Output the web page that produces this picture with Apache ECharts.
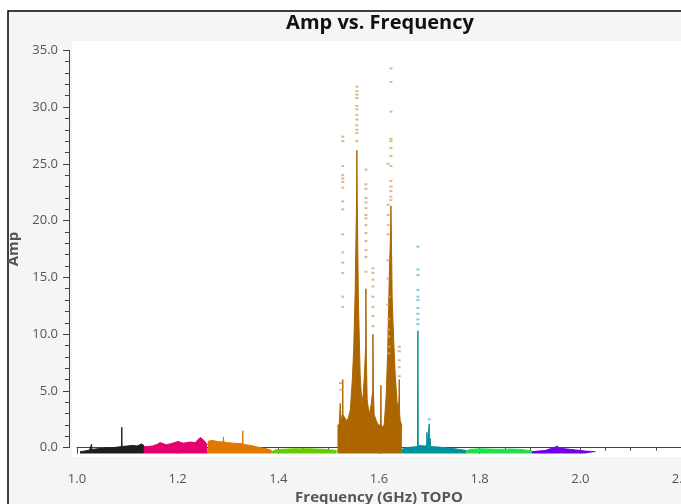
<!DOCTYPE html>
<html>
<head>
<meta charset="utf-8">
<script src="https://cdn.jsdelivr.net/npm/echarts@6/dist/echarts.min.js"></script>
<style>
  html, body { margin: 0; padding: 0; background: #fff; }
  #chart { width: 681px; height: 504px; }
</style>
</head>
<body>
<div id="chart"></div>
<script>
// amplitude floor of every spw strip (points sit a little under the 0.0 tick)
const BASE = -0.5

// spw 0..7, upper edge of each strip [GHz, Amp]
const spw0Freq = [1.006, 1.015, 1.025, 1.0285, 1.029, 1.0295, 1.04, 1.05, 1.06, 1.07, 1.08, 1.0885, 1.089, 1.0895, 1.10, 1.11, 1.12, 1.128, 1.133]
const spw0Amp = [-0.35, -0.3, -0.2, -0.15, 0.3, -0.15, -0.1, -0.05, 0.0, 0.0, 0.05, 0.1, 1.8, 0.1, 0.15, 0.2, 0.15, 0.33, 0.2]

const spw1Freq = [1.133, 1.14, 1.15, 1.16, 1.165, 1.178, 1.19, 1.201, 1.211, 1.225, 1.235, 1.2445, 1.251, 1.258, 1.26]
const spw1Amp = [0.1, 0.1, 0.15, 0.3, 0.45, 0.25, 0.4, 0.55, 0.4, 0.5, 0.45, 0.9, 0.7, 0.3, 0.3]

const spw2Freq = [1.26, 1.268, 1.278, 1.2905, 1.291, 1.2915, 1.298, 1.311, 1.3289, 1.3294, 1.3299, 1.337, 1.35, 1.364, 1.377, 1.387]
const spw2Amp = [0.55, 0.65, 0.55, 0.5, 0.95, 0.5, 0.45, 0.4, 0.35, 1.5, 0.3, 0.25, 0.15, 0.0, -0.1, -0.25]

const spw3Freq = [1.387, 1.394, 1.404, 1.43, 1.463, 1.495, 1.516]
const spw3Amp = [-0.35, -0.2, -0.15, -0.1, -0.1, -0.15, -0.25]

const spw4Freq = [1.5175, 1.521, 1.523, 1.5245, 1.527, 1.5275, 1.528, 1.5285, 1.535, 1.539, 1.543, 1.547, 1.5497, 1.5527, 1.5555, 1.556, 1.5568, 1.559, 1.5626, 1.566, 1.569, 1.5716, 1.5735, 1.574, 1.5748, 1.5765, 1.5805, 1.5845, 1.5875, 1.588, 1.5888, 1.5905, 1.5944, 1.5984, 1.6032, 1.6038, 1.6045, 1.6064, 1.6103, 1.6143, 1.6173, 1.6203, 1.623, 1.6237, 1.6245, 1.6262, 1.6292, 1.6322, 1.6362, 1.6395, 1.6402, 1.641, 1.6421, 1.6455]
const spw4Amp = [1.9, 2.1, 3.9, 2.3, 2.4, 3.0, 6.0, 2.9, 2.4, 2.6, 3.3, 6.0, 8.6, 13.9, 22.0, 26.2, 21.8, 13.0, 6.4, 3.8, 4.9, 6.9, 9.0, 14.0, 8.0, 4.2, 2.9, 3.8, 5.0, 10.0, 5.0, 2.9, 2.4, 2.0, 2.0, 5.5, 2.0, 1.8, 2.0, 4.6, 8.6, 14.8, 19.0, 21.3, 19.0, 13.0, 9.5, 6.4, 3.8, 4.0, 6.0, 3.0, 2.4, 1.9]

const spw5Freq = [1.6455, 1.655, 1.665, 1.6765, 1.6773, 1.678, 1.69, 1.6948, 1.6952, 1.6958, 1.6993, 1.6998, 1.7003, 1.7012, 1.7018, 1.7025, 1.72, 1.74, 1.76, 1.774]
const spw5Amp = [-0.15, 0.0, 0.05, 0.1, 10.3, 0.2, 0.15, 0.2, 1.35, 0.2, 0.3, 2.1, 0.3, 0.2, 0.8, 0.1, 0.05, -0.05, -0.15, -0.25]

const spw6Freq = [1.774, 1.78, 1.80, 1.82, 1.84, 1.86, 1.88, 1.90, 1.904]
const spw6Amp = [-0.3, -0.15, -0.1, -0.12, -0.15, -0.12, -0.15, -0.25, -0.3]

const spw7Freq = [1.904, 1.915, 1.93, 1.94, 1.95, 1.954, 1.958, 1.97, 1.98, 1.99, 2.0, 2.01, 2.03]
const spw7Amp = [-0.35, -0.3, -0.25, -0.1, 0.05, 0.15, -0.05, -0.1, -0.15, -0.2, -0.25, -0.3, -0.35]

const spwFreqs = [spw0Freq, spw1Freq, spw2Freq, spw3Freq, spw4Freq, spw5Freq, spw6Freq, spw7Freq]
const spwAmps = [spw0Amp, spw1Amp, spw2Amp, spw3Amp, spw4Amp, spw5Amp, spw6Amp, spw7Amp]
const spwColors = ['#1e1e1e', '#e5006d', '#e27800', '#66cc00', '#ad6500', '#00929b', '#1fe04a', '#7000e8']

// scattered high points above the dense RFI columns [GHz, Amp]
const spw4Sparse = [
    [1.528, 27.4], [1.528, 27.0], [1.528, 24.8], [1.528, 24.0], [1.528, 23.7], [1.528, 23.4], [1.528, 22.9],
    [1.528, 21.7], [1.528, 21.0], [1.528, 18.8], [1.528, 17.2], [1.528, 16.3], [1.528, 15.4], [1.528, 13.3], [1.528, 12.4],
    [1.556, 31.8], [1.556, 31.4], [1.556, 31.1], [1.556, 30.8], [1.556, 30.1], [1.556, 29.8], [1.556, 29.3],
    [1.556, 28.9], [1.556, 28.4], [1.556, 28.0], [1.556, 27.7], [1.556, 27.0],
    [1.574, 24.5], [1.574, 23.2], [1.574, 22.8], [1.574, 22.0], [1.574, 21.6], [1.574, 21.1], [1.574, 20.5],
    [1.574, 20.2], [1.574, 19.6], [1.574, 18.9], [1.574, 18.2], [1.574, 17.4], [1.574, 16.8], [1.574, 15.5],
    [1.588, 15.8], [1.588, 15.4], [1.588, 14.8], [1.588, 14.2], [1.588, 13.3], [1.588, 12.4], [1.588, 11.6], [1.588, 10.7],
    [1.6237, 33.4], [1.6237, 32.2], [1.6237, 29.6], [1.6237, 27.2], [1.6237, 27.0], [1.6237, 26.4], [1.6237, 25.7],
    [1.6237, 24.8], [1.6237, 23.5], [1.6237, 23.0], [1.6237, 22.6], [1.6237, 22.1], [1.6237, 21.8],
    [1.6182, 25.0], [1.6182, 21.4], [1.6182, 20.5], [1.6182, 19.6], [1.6182, 18.8],
    [1.6176, 16.5], [1.618, 14.9], [1.617, 12.6], [1.62, 13.3], [1.619, 11.3], [1.6186, 10.4], [1.62, 9.8], [1.6206, 8.9], [1.6193, 8.3],
    [1.6402, 8.9], [1.6402, 8.5], [1.6402, 7.7], [1.6402, 7.1], [1.6402, 6.3],
    [1.5235, 5.7], [1.5245, 5.1]
]
const spw5Sparse = [
    [1.6773, 17.7], [1.6773, 15.7], [1.6773, 15.2], [1.6773, 13.9], [1.6773, 13.3], [1.6773, 13.0],
    [1.6773, 12.3], [1.6773, 11.8], [1.6773, 11.3], [1.6773, 10.9], [1.6998, 2.5]
]

const chart = echarts.init(document.getElementById('chart'), null, {renderer: 'canvas'})

const series = spwFreqs.map((freqs, i) => ({
    type: 'line',
    name: 'spw' + i,
    data: freqs.map((f, k) => [f, spwAmps[i][k]]),
    showSymbol: false,
    clip: false,
    z: 3,
    lineStyle: {color: spwColors[i], width: 1},
    areaStyle: {color: spwColors[i], opacity: 1, origin: BASE}
}))

series.push({
    type: 'scatter',
    data: spw4Sparse,
    symbol: 'rect',
    symbolSize: [3, 2],
    itemStyle: {color: '#d4a76e'},
    z: 4
})
series.push({
    type: 'scatter',
    data: spw5Sparse,
    symbol: 'rect',
    symbolSize: [3, 2],
    itemStyle: {color: '#5fbfc7'},
    z: 4
})

const axisGrey = '#444'
const labelGrey = '#555'
const fontFamily = '"Open Sans", "Noto Sans", sans-serif'

const options = {
    animation: false,
    backgroundColor: '#fff',
    textStyle: {fontFamily: fontFamily},
    graphic: {
        elements: [
            {
                type: 'rect',
                z: -10,
                shape: {x: 8, y: 11, width: 700, height: 520},
                style: {fill: '#f4f5f7', stroke: '#000', lineWidth: 1.5}
            },
            {
                type: 'rect',
                z: -9,
                shape: {x: 72, y: 41, width: 620, height: 416},
                style: {fill: '#fff'}
            },
            {
                type: 'text',
                z: 10,
                x: 380,
                y: 23,
                style: {
                    text: 'Amp vs. Frequency',
                    align: 'center',
                    verticalAlign: 'middle',
                    fill: '#111',
                    font: 'bold 20px "Open Sans", "Noto Sans", sans-serif'
                }
            }
        ]
    },
    grid: {
        left: 77,
        right: 0,
        top: 50.3,
        bottom: 56.3,
        outerBoundsMode: 'none'
    },
    xAxis: {
        type: 'value',
        min: 1.0,
        max: 2.2,
        interval: 0.2,
        offset: 15,
        name: 'Frequency (GHz) TOPO',
        nameLocation: 'middle',
        nameGap: 26,
        nameTextStyle: {color: labelGrey, fontWeight: 'bold', fontSize: 15},
        axisLine: {lineStyle: {color: axisGrey, width: 1}},
        axisTick: {length: 6, lineStyle: {color: axisGrey}},
        minorTick: {show: true, splitNumber: 4, length: 3, lineStyle: {color: axisGrey}},
        splitLine: {show: false},
        axisLabel: {
            color: labelGrey,
            fontSize: 13,
            margin: 10,
            formatter: v => v.toFixed(1)
        }
    },
    yAxis: {
        type: 'value',
        min: 0,
        max: 35,
        interval: 5,
        offset: 8,
        name: 'Amp',
        nameLocation: 'middle',
        nameGap: 42,
        nameTextStyle: {color: labelGrey, fontWeight: 'bold', fontSize: 15},
        axisLine: {show: true, lineStyle: {color: axisGrey, width: 1}},
        axisTick: {show: true, length: 6, lineStyle: {color: axisGrey}},
        minorTick: {show: true, splitNumber: 5, length: 4, lineStyle: {color: axisGrey}},
        splitLine: {show: false},
        axisLabel: {
            color: labelGrey,
            fontSize: 13,
            margin: 11,
            formatter: v => v.toFixed(1)
        }
    },
    series: series
}

chart.setOption(options)
</script>
</body>
</html>
